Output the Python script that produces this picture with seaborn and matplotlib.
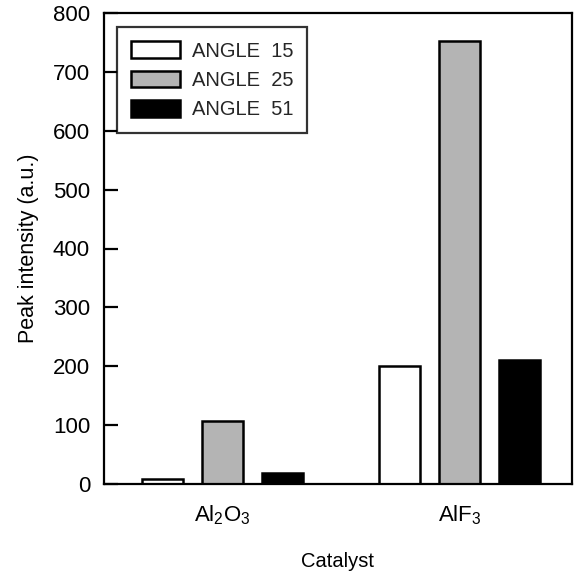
import matplotlib
matplotlib.use("Agg")
import matplotlib.pyplot as plt
import seaborn as sns
import pandas as pd

catalysts = ["Al$_2$O$_3$", "AlF$_3$"]
series = ["ANGLE  15", "ANGLE  25", "ANGLE  51"]
angle15 = [9, 200]
angle25 = [107, 752]
angle51 = [19, 211]
y_ticks = [0, 100, 200, 300, 400, 500, 600, 700, 800]

df = pd.DataFrame({
    "Catalyst": catalysts * 3,
    "Series": [series[0]] * 2 + [series[1]] * 2 + [series[2]] * 2,
    "Peak": angle15 + angle25 + angle51,
})

sns.set_theme(style="ticks")
plt.rcParams["font.family"] = ["Liberation Sans", "DejaVu Sans"]
plt.rcParams["mathtext.fontset"] = "custom"
plt.rcParams["mathtext.rm"] = "Liberation Sans"
plt.rcParams["mathtext.it"] = "Liberation Sans"

fig = plt.figure(figsize=(5.84, 5.71), dpi=100)
ax = fig.add_axes([104 / 584, 1 - 484 / 571, 468 / 584, 471 / 571])

palette = {series[0]: "white", series[1]: "#b4b4b4", series[2]: "black"}
sns.barplot(data=df, x="Catalyst", y="Peak", hue="Series", order=catalysts,
            hue_order=series, palette=palette, width=0.76, gap=0.32,
            edgecolor="black", linewidth=1.8, ax=ax, saturation=1)

ax.set_xlim(-0.50, 1.473)
ax.set_ylim(0, 800)
ax.set_yticks(y_ticks)
ax.tick_params(axis="y", direction="in", length=10, width=1.6, labelsize=16, pad=10, colors="black")
ax.tick_params(axis="x", length=0, labelsize=16, pad=14, colors="black")
for s in ax.spines.values():
    s.set_visible(True)
    s.set_linewidth(1.6)
    s.set_color("black")

ax.set_xlabel("Catalyst", fontsize=14.5, labelpad=18, color="black")
ax.set_ylabel("Peak intensity (a.u.)", fontsize=15.5, labelpad=10, color="black")

leg = ax.legend(loc="upper left", bbox_to_anchor=(0.028, 0.97), fontsize=14.5,
                frameon=True, fancybox=False, edgecolor="black",
                handlelength=2.4, handleheight=0.9, handletextpad=0.6,
                borderpad=0.7, labelspacing=0.5, borderaxespad=0)
leg.get_frame().set_linewidth(1.6)

fig.savefig("out.png", dpi=100)
